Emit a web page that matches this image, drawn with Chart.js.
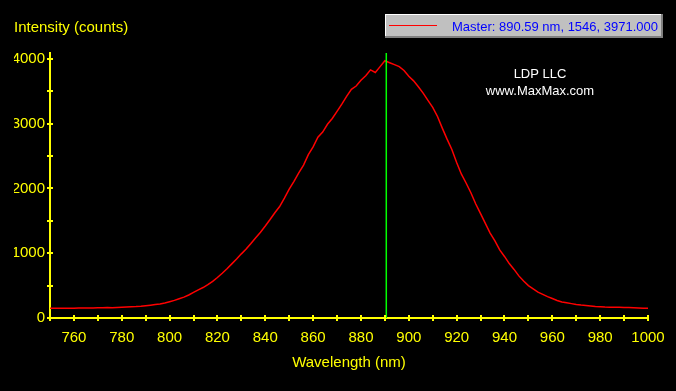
<!DOCTYPE html>
<html>
<head>
<meta charset="utf-8">
<script src="https://cdn.jsdelivr.net/npm/chart.js@4.4.0/dist/chart.umd.min.js"></script>
<style>
  html, body { margin: 0; padding: 0; background: #000; }
  #wrap { width: 676px; height: 391px; }
</style>
</head>
<body>
<div id="wrap"><canvas id="spectrum" width="676" height="391"></canvas></div>
<script>
// spectrum sampled every 2 nm from 750 to 1000 nm
const startNm = 750;
const stepNm = 2;
const intensity = [
  150, 150, 151, 151, 152, 152, 153, 154, 155, 156,
  158, 159, 161, 160, 163, 165, 168, 172, 176, 182,
  190, 198, 207, 216, 232, 252, 272, 298, 322, 355,
  395, 435, 470, 515, 565, 625, 690, 760, 835, 910,
  990, 1065, 1150, 1240, 1325, 1420, 1520, 1625, 1720, 1850,
  1990, 2110, 2240, 2360, 2520, 2640, 2790, 2870, 2990, 3080,
  3190, 3300, 3420, 3530, 3580, 3670, 3740, 3830, 3790, 3880,
  3971, 3940, 3910, 3880, 3820, 3730, 3660, 3570, 3470, 3360,
  3250, 3110, 2930, 2760, 2600, 2400, 2220, 2080, 1930, 1760,
  1610, 1460, 1310, 1190, 1050, 950, 840, 750, 650, 570,
  500, 450, 400, 365, 330, 300, 270, 248, 235, 222,
  210, 200, 192, 185, 177, 172, 168, 167, 165, 164,
  162, 161, 158, 155, 152, 150
];

// tick marks (labels only on every other one)
const yTickValues = [0, 500, 1000, 1500, 2000, 2500, 3000, 3500, 4000];
const yLabelStep = 1000;
const xLabelStep = 20;

// cursor ("Master") readout
const markerNm = 890.59;
const markerIndex = 1546;
const markerCounts = 3971;

const xMin = 750, xMax = 1000;
const yMin = 0, yMax = 4090;

const yellow = '#ffff00';
const fontFamily = '"Liberation Sans", Arial, sans-serif';

const spectrumPoints = intensity.map((v, i) => ({ x: startNm + i * stepNm, y: v }));
const markerPoints = [{ x: markerNm, y: yMin }, { x: markerNm, y: yMax }];

// black background, inner half of tick marks, company text and the cursor box
const scopeFrame = {
  id: 'scopeFrame',
  beforeDraw(chart) {
    const ctx = chart.ctx;
    ctx.save();
    ctx.fillStyle = '#000';
    ctx.fillRect(0, 0, chart.width, chart.height);
    ctx.restore();
  },
  afterDraw(chart) {
    const { ctx, chartArea } = chart;
    const xs = chart.scales.x, ys = chart.scales.y;
    ctx.save();

    ctx.strokeStyle = yellow;
    ctx.lineWidth = 2;
    ctx.beginPath();
    xs.ticks.forEach(t => {
      const px = Math.round(xs.getPixelForValue(t.value));
      ctx.moveTo(px, chartArea.bottom);
      ctx.lineTo(px, chartArea.bottom - 3);
    });
    ys.ticks.forEach(t => {
      const py = Math.round(ys.getPixelForValue(t.value));
      ctx.moveTo(chartArea.left, py);
      ctx.lineTo(chartArea.left + 3, py);
    });
    ctx.stroke();

    ctx.fillStyle = '#ffffff';
    ctx.font = '13px ' + fontFamily;
    ctx.textAlign = 'center';
    ctx.textBaseline = 'alphabetic';
    ctx.fillText('LDP LLC', 540, 78);
    ctx.fillText('www.MaxMax.com', 540, 95);

    // cursor box
    const bx = 385, by = 14, bw = 278, bh = 24;
    ctx.fillStyle = '#c0c0c0';
    ctx.fillRect(bx, by, bw, bh);
    ctx.fillStyle = '#ffffff';
    ctx.fillRect(bx, by, bw, 1);
    ctx.fillRect(bx, by, 1, bh);
    ctx.fillStyle = '#808080';
    ctx.fillRect(bx, by + bh - 2, bw, 2);
    ctx.fillRect(bx + bw - 2, by, 2, bh);

    ctx.fillStyle = '#ff0000';
    ctx.fillRect(389, 25, 48, 1);

    ctx.fillStyle = '#0000ff';
    ctx.textAlign = 'right';
    ctx.fillText('Master: ' + markerNm.toFixed(2) + ' nm, ' + markerIndex + ', ' + markerCounts.toFixed(3), 658, 30.5);

    ctx.restore();
  }
};

Chart.defaults.font.family = fontFamily;

const ctx = document.getElementById('spectrum').getContext('2d');
const spectrumChart = new Chart(ctx, {
  type: 'line',
  data: {
    datasets: [
      {
        label: 'cursor',
        data: markerPoints,
        borderColor: '#00ff00',
        borderWidth: 1.5,
        pointRadius: 0,
        fill: false
      },
      {
        label: 'Master',
        data: spectrumPoints,
        borderColor: '#ff0000',
        borderWidth: 1.5,
        pointRadius: 0,
        tension: 0,
        fill: false
      }
    ]
  },
  options: {
    responsive: false,
    animation: false,
    events: [],
    layout: { padding: { left: 14, right: 28, top: 0, bottom: 0 } },
    scales: {
      x: {
        type: 'linear',
        min: xMin,
        max: xMax,
        afterFit: s => { s.height = 73; },
        ticks: {
          stepSize: 10,
          autoSkip: false,
          maxRotation: 0,
          color: yellow,
          padding: 8,
          font: { size: 15 },
          callback: v => (v % xLabelStep === 0 ? String(v) : '')
        },
        grid: { drawOnChartArea: false, color: yellow, lineWidth: 2, tickLength: 3 },
        border: { color: yellow, width: 2 },
        title: {
          display: true,
          text: 'Wavelength (nm)',
          color: yellow,
          font: { size: 15 },
          padding: { top: 0, bottom: 19 }
        }
      },
      y: {
        type: 'linear',
        min: yMin,
        max: yMax,
        afterFit: s => { s.width = 36; },
        afterBuildTicks: s => { s.ticks = yTickValues.map(v => ({ value: v })); },
        ticks: {
          autoSkip: false,
          includeBounds: false,
          color: yellow,
          padding: 2,
          font: { size: 15 },
          callback: v => (v % yLabelStep === 0 ? String(v) : '')
        },
        grid: { drawOnChartArea: false, color: yellow, lineWidth: 2, tickLength: 3 },
        border: { color: yellow, width: 2 }
      }
    },
    plugins: {
      legend: { display: false },
      tooltip: { enabled: false },
      title: {
        display: true,
        text: 'Intensity (counts)',
        align: 'start',
        color: yellow,
        font: { size: 15, weight: 'normal' },
        padding: { top: 19, bottom: 16 }
      }
    }
  },
  plugins: [scopeFrame]
});
</script>
</body>
</html>
